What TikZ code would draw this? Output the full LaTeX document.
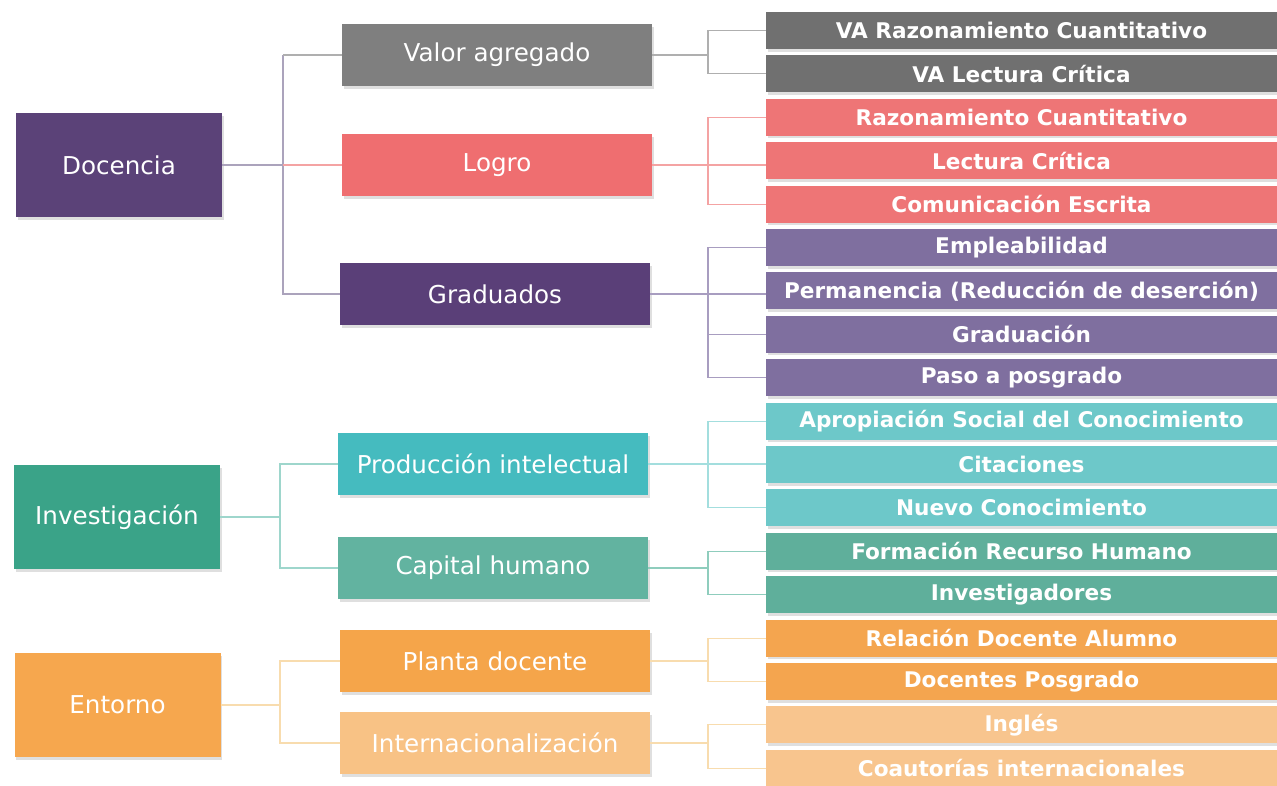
\documentclass[tikz,border=0pt]{standalone}
\usepackage{fontspec}
\setmainfont{DejaVu Sans}
\usetikzlibrary{shadows}
\definecolor{cDoc}{HTML}{5B4278}
\definecolor{cVA}{HTML}{7F7F7F}
\definecolor{cVAr}{HTML}{707070}
\definecolor{cLog}{HTML}{EF6E70}
\definecolor{cLogr}{HTML}{EE7576}
\definecolor{cGrad}{HTML}{5A3F78}
\definecolor{cGradr}{HTML}{7F6F9F}
\definecolor{cInv}{HTML}{3AA388}
\definecolor{cProd}{HTML}{45BBBF}
\definecolor{cProdr}{HTML}{6DC8C9}
\definecolor{cCap}{HTML}{62B3A0}
\definecolor{cCapr}{HTML}{5FAF9B}
\definecolor{cEnt}{HTML}{F6A74E}
\definecolor{cPla}{HTML}{F5A54A}
\definecolor{cPlar}{HTML}{F4A54F}
\definecolor{cInt}{HTML}{F8C285}
\definecolor{cIntr}{HTML}{F8C58E}
\definecolor{lDoc}{HTML}{ABA3BC}
\definecolor{lVA}{HTML}{AFAFAF}
\definecolor{lLog}{HTML}{F4A3A3}
\definecolor{lGrad}{HTML}{A89DC0}
\definecolor{lInv}{HTML}{9ED6CC}
\definecolor{lProd}{HTML}{A3DEDE}
\definecolor{lCap}{HTML}{8FCDBD}
\definecolor{lEnt}{HTML}{F8DCAE}
\tikzset{
  box/.style={inner sep=0pt, text=white, align=center,
    drop shadow={shadow xshift=1.5pt, shadow yshift=-2.5pt, opacity=0.25}},
  lbox/.style={box, minimum width=206pt, minimum height=104pt, font=\fontsize{24.6}{28}\selectfont},
  mbox/.style={box, minimum width=310pt, minimum height=62pt, font=\fontsize{24.6}{28}\selectfont},
  rbox/.style={box, minimum width=511pt, minimum height=37pt, font=\bfseries\fontsize{21.6}{24}\selectfont},
  conn/.style={line width=1.1pt}
}
\begin{document}
\begin{tikzpicture}[x=1pt,y=-1pt]
\useasboundingbox (0,0) rectangle (1277,785);
% left column
\node[lbox, fill=cDoc] (doc) at (119,165) {Docencia};
\node[lbox, fill=cInv] (inv) at (117,517) {Investigación};
\node[lbox, fill=cEnt] (ent) at (117.5,705) {Entorno};
% middle column
\node[mbox, fill=cVA] (va) at (497,55) {Valor agregado};
\node[mbox, fill=cLog] (log) at (497,165) {Logro};
\node[mbox, fill=cGrad] (grad) at (495,294) {Graduados};
\node[mbox, fill=cProd] (prod) at (493,464) {Producción intelectual};
\node[mbox, fill=cCap] (cap) at (493,568) {Capital humano};
\node[mbox, fill=cPla] (pla) at (495,661) {Planta docente};
\node[mbox, fill=cInt] (int) at (495,743) {Internacionalización};
% right column
\node[rbox, fill=cVAr] (r1) at (1021.5,30.5) {VA Razonamiento Cuantitativo};
\node[rbox, fill=cVAr] (r2) at (1021.5,73.9) {VA Lectura Crítica};
\node[rbox, fill=cLogr] (r3) at (1021.5,117.3) {Razonamiento Cuantitativo};
\node[rbox, fill=cLogr] (r4) at (1021.5,160.7) {Lectura Crítica};
\node[rbox, fill=cLogr] (r5) at (1021.5,204.1) {Comunicación Escrita};
\node[rbox, fill=cGradr] (r6) at (1021.5,247.5) {Empleabilidad};
\node[rbox, fill=cGradr] (r7) at (1021.5,290.9) {Permanencia (Reducción de deserción)};
\node[rbox, fill=cGradr] (r8) at (1021.5,334.3) {Graduación};
\node[rbox, fill=cGradr] (r9) at (1021.5,377.7) {Paso a posgrado};
\node[rbox, fill=cProdr] (r10) at (1021.5,421.1) {Apropiación Social del Conocimiento};
\node[rbox, fill=cProdr] (r11) at (1021.5,464.5) {Citaciones};
\node[rbox, fill=cProdr] (r12) at (1021.5,507.9) {Nuevo Conocimiento};
\node[rbox, fill=cCapr] (r13) at (1021.5,551.3) {Formación Recurso Humano};
\node[rbox, fill=cCapr] (r14) at (1021.5,594.7) {Investigadores};
\node[rbox, fill=cPlar] (r15) at (1021.5,638.1) {Relación Docente Alumno};
\node[rbox, fill=cPlar] (r16) at (1021.5,681.5) {Docentes Posgrado};
\node[rbox, fill=cIntr] (r17) at (1021.5,724.9) {Inglés};
\node[rbox, fill=cIntr] (r18) at (1021.5,768.3) {Coautorías internacionales};
% trunks
\coordinate (tD) at (283,165);
\coordinate (tDa) at (283,55);
\coordinate (tI) at (280,517);
\coordinate (tE) at (280,705);
\coordinate (tVA) at (708,55);
\coordinate (tL) at (708,165);
\coordinate (tG) at (708,294);
\coordinate (tP) at (708,464);
\coordinate (tC) at (708,568);
\coordinate (tPl) at (708,661);
\coordinate (tIn) at (708,743);
% left connectors
\draw[conn, lDoc] (doc.east) -- (tD);
\draw[conn, lDoc] (tD) -- (tDa);
\draw[conn, lVA] (tDa) -- (va.west);
\draw[conn, lDoc] (tD) |- (grad.west);
\draw[conn, lLog] (tD) -- (log.west);
\draw[conn, lInv] (inv.east) -- (tI);
\draw[conn, lInv] (tI) |- (prod.west);
\draw[conn, lInv] (tI) |- (cap.west);
\draw[conn, lEnt] (ent.east) -- (tE);
\draw[conn, lEnt] (tE) |- (pla.west);
\draw[conn, lEnt] (tE) |- (int.west);
% right connectors
\draw[conn, lVA] (va.east) -- (tVA);
\draw[conn, lVA] (tVA) |- (r1.west);
\draw[conn, lVA] (tVA) |- (r2.west);
\draw[conn, lLog] (log.east) -- (tL);
\draw[conn, lLog] (tL) |- (r3.west);
\draw[conn, lLog] (tL) -- (tL -| r4.west);
\draw[conn, lLog] (tL) |- (r5.west);
\draw[conn, lGrad] (grad.east) -- (tG);
\draw[conn, lGrad] (tG) |- (r6.west);
\draw[conn, lGrad] (tG) -- (tG -| r7.west);
\draw[conn, lGrad] (tG) |- (r8.west);
\draw[conn, lGrad] (tG) |- (r9.west);
\draw[conn, lProd] (prod.east) -- (tP);
\draw[conn, lProd] (tP) |- (r10.west);
\draw[conn, lProd] (tP) -- (tP -| r11.west);
\draw[conn, lProd] (tP) |- (r12.west);
\draw[conn, lCap] (cap.east) -- (tC);
\draw[conn, lCap] (tC) |- (r13.west);
\draw[conn, lCap] (tC) |- (r14.west);
\draw[conn, lEnt] (pla.east) -- (tPl);
\draw[conn, lEnt] (tPl) |- (r15.west);
\draw[conn, lEnt] (tPl) |- (r16.west);
\draw[conn, lEnt] (int.east) -- (tIn);
\draw[conn, lEnt] (tIn) |- (r17.west);
\draw[conn, lEnt] (tIn) |- (r18.west);
\end{tikzpicture}
\end{document}
